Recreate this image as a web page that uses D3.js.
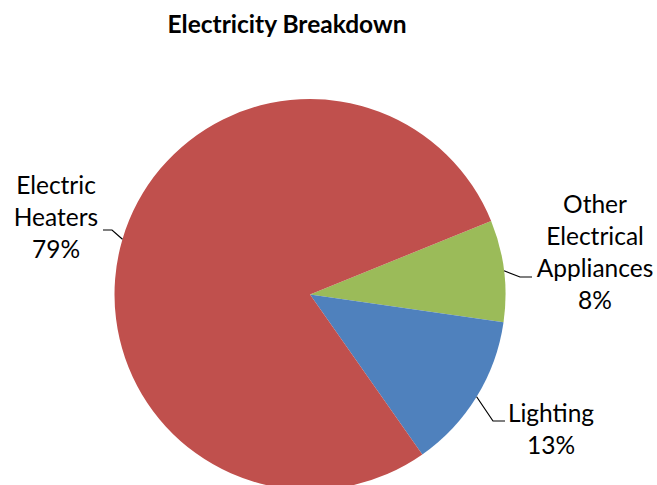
<!DOCTYPE html>
<html><head><meta charset="utf-8">
<script src="https://cdn.jsdelivr.net/npm/d3@7"></script>
<style>html,body{margin:0;padding:0;background:#fff;overflow:hidden}</style>
</head><body>
<svg id="chart" width="657" height="485"></svg>
<script>
const categories = ["Other Electrical Appliances", "Lighting", "Electric Heaters"];
const values = [8.4, 13.0, 78.6];
const colors = ["#9BBB59", "#4F81BD", "#C0504D"];
const labelLines = [["Other", "Electrical", "Appliances"], ["Lighting"], ["Electric", "Heaters"]];
const title = "Electricity Breakdown";

// label layout (Excel-positioned)
const labelLayout = [
  {cx: 595, y0: 213, elbow: [520, 277], end: [532, 277]},
  {cx: 551, y0: 422, elbow: [493, 421], end: [505, 421]},
  {cx: 56,  y0: 194, elbow: [112, 230], end: [103, 230]}
];

const svg = d3.select("#chart");
const cx = 310, cy = 294.5, r = 195.5;
const start = 67.9 * Math.PI / 180;
const font = "Lato, 'Open Sans', sans-serif";

svg.append("text").attr("x", 287).attr("y", 33).attr("text-anchor", "middle")
  .attr("font-family", font).attr("font-weight", "bold").attr("font-size", 24.5)
  .attr("fill", "#000").text(title);

const pie = d3.pie().sort(null).value(d => d).startAngle(start).endAngle(start + 2 * Math.PI);
const arcs = pie(values);
const arc = d3.arc().innerRadius(0).outerRadius(r);
const g = svg.append("g").attr("transform", `translate(${cx},${cy})`);
g.selectAll("path").data(arcs).join("path")
  .attr("d", arc).attr("fill", (d, i) => colors[i]);

const lineH = 32;
arcs.forEach((a, i) => {
  const mid = (a.startAngle + a.endAngle) / 2;
  const p = d3.pointRadial(mid, r);
  const L = labelLayout[i];
  svg.append("polyline")
    .attr("points", [[cx + p[0], cy + p[1]], L.elbow, L.end].map(q => q.join(",")).join(" "))
    .attr("fill", "none").attr("stroke", "#000").attr("stroke-width", 1.2);
  const lines = labelLines[i].concat([Math.round(values[i]) + "%"]);
  const t = svg.append("text").attr("text-anchor", "middle")
    .attr("font-family", font).attr("font-size", 24.5).attr("fill", "#000");
  lines.forEach((s, k) => {
    t.append("tspan").attr("x", L.cx).attr("y", L.y0 + k * lineH).text(s);
  });
});
</script>
</body></html>
